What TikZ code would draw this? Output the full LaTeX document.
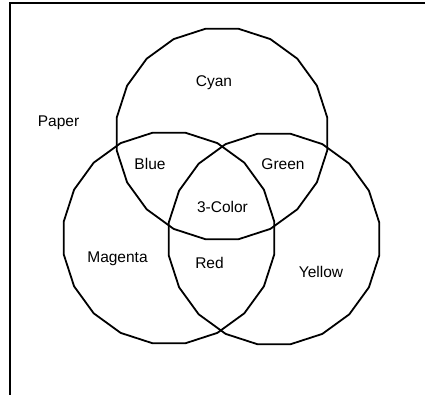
\documentclass[tikz,border=0pt]{standalone}
\usepackage{fontspec}
\setmainfont{Liberation Sans}
\usetikzlibrary{shapes.geometric}
\begin{document}
\begin{tikzpicture}[x=1pt,y=-1pt,
  ring/.style={draw, line width=1.8pt, regular polygon, regular polygon sides=20, minimum size=213pt, inner sep=0pt, outer sep=0pt},
  lbl/.style={anchor=base, inner sep=0pt, font=\fontsize{15.5}{18}\selectfont}]
\useasboundingbox (0,0) rectangle (425,395);
\coordinate (bl) at (10,395);
\coordinate (tl) at (10,3);
\coordinate (tr) at (425,3);
\draw[line width=2pt] (bl) -- (tl) -- (tr);
\node[ring] (cyan) at (222,134) {};
\node[ring] (magenta) at (169,238) {};
\node[ring] (yellow) at (274,239) {};
\node[lbl] (tcyan) at (214,87) {Cyan};
\node[lbl] (tpaper) at (58.5,127) {Paper};
\node[lbl] (tblue) at (150,170) {Blue};
\node[lbl] (tgreen) at (283,170) {Green};
\node[lbl] (tthree) at (222.5,213) {3-Color};
\node[lbl] (tmagenta) at (117.5,262) {Magenta};
\node[lbl] (tred) at (209.5,268) {Red};
\node[lbl] (tyellow) at (321,277) {Yellow};
\end{tikzpicture}
\end{document}
